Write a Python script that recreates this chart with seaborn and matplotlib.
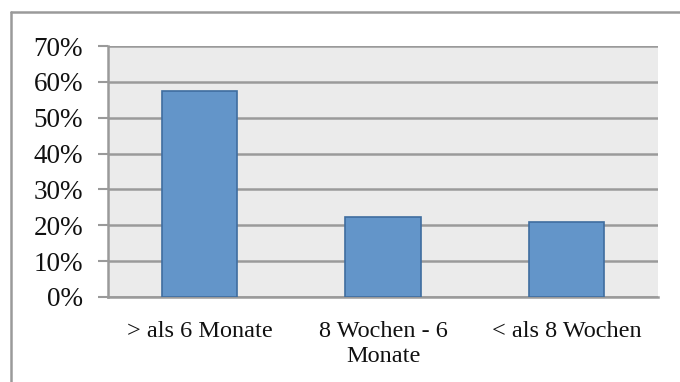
import matplotlib
matplotlib.use("Agg")
import matplotlib.pyplot as plt
from matplotlib.lines import Line2D
from matplotlib.ticker import FuncFormatter, MultipleLocator
import seaborn as sns
import pandas as pd

categories = ["> als 6 Monate", "8 Wochen - 6\nMonate", "< als 8 Wochen"]
values = [0.574, 0.222, 0.208]

sns.set_theme(style="white")
plt.rcParams["font.family"] = ["Liberation Serif", "DejaVu Serif"]

df = pd.DataFrame({"cat": categories, "val": values})

fig = plt.figure(figsize=(6.8, 3.82), dpi=100)
ax = fig.add_axes([108/680, 1-297/382, 550/680, 251/382])
ax.set_facecolor("#EBEBEB")

sns.barplot(data=df, x="cat", y="val", ax=ax, color="#6395C9",
            width=0.41, saturation=1, edgecolor="#3F6D9F", linewidth=1.2,
            zorder=3)

ax.set_ylim(0, 0.70)
ax.set_xlim(-0.5, 2.5)
ax.yaxis.set_major_locator(MultipleLocator(0.10))
ax.yaxis.set_major_formatter(FuncFormatter(lambda v, p: f"{v*100:.0f}%"))
ax.grid(axis="y", color="#9A9A9A", linewidth=1.8, zorder=1)
ax.set_axisbelow(True)
ax.set_xlabel("")
ax.set_ylabel("")

for s in ["top", "right"]:
    ax.spines[s].set_visible(False)
for s in ["left", "bottom"]:
    ax.spines[s].set_color("#9A9A9A")
    ax.spines[s].set_linewidth(1.8)

# x ticks at category boundaries
ax.set_xticks([-0.5, 0.5, 1.5, 2.5], minor=False)
ax.set_xticklabels([])
ax.set_xticks([0, 1, 2], minor=True)
ax.set_xticklabels(categories, minor=True, fontsize=17.5, color="#111111",
                   linespacing=1.25)
ax.tick_params(axis="x", which="major", length=7, width=1.5, color="#9A9A9A",
               direction="out")
ax.tick_params(axis="x", which="minor", length=0, pad=17)
ax.tick_params(axis="y", length=7, width=1.5, color="#9A9A9A", pad=11,
               labelsize=19.5, labelcolor="#111111", left=True)

# outer chart frame
fig.add_artist(Line2D([11/680, 11/680], [0, 1-12/382], color="#9A9A9A",
                      linewidth=1.8, transform=fig.transFigure))
fig.add_artist(Line2D([11/680, 1], [1-12/382, 1-12/382], color="#9A9A9A",
                      linewidth=1.8, transform=fig.transFigure))

fig.savefig("out.png", dpi=100)
